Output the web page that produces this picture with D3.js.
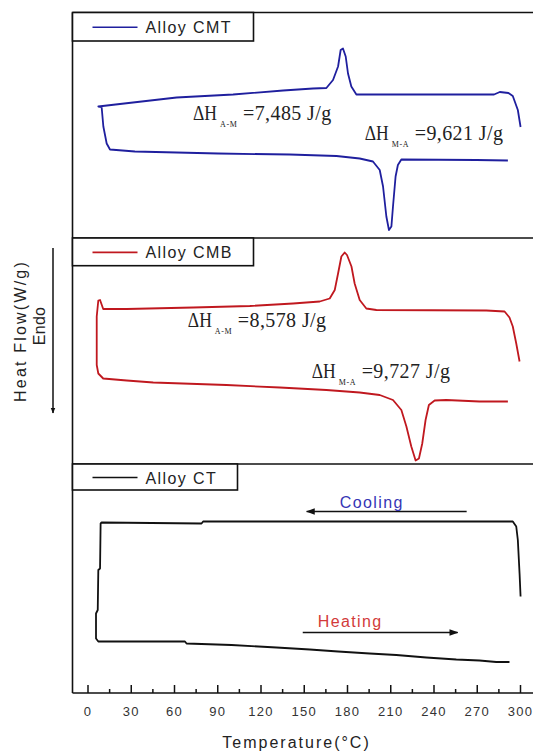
<!DOCTYPE html>
<html>
<head>
<meta charset="utf-8">
<script src="https://cdn.jsdelivr.net/npm/d3@7"></script>
<style>
  html, body { margin: 0; padding: 0; background: #fff; }
  svg { display: block; }
  text { font-family: "Liberation Sans", Arial, sans-serif; }
  text.serif { font-family: "Liberation Serif", "Times New Roman", serif; }
</style>
</head>
<body>
<svg id="chart" width="533" height="753"></svg>
<script>
// Temperature axis
const tempTicks = [0, 30, 60, 90, 120, 150, 180, 210, 240, 270, 300];
const tempMinorTicks = [15, 45, 75, 105, 135, 165, 195, 225, 255, 285];

// DSC loops: [temperature °C, heat flow W/g]; cooling run from 300 °C down, then heating run back up
const cmtCooling = [
  [300.4, 2.22], [298.5, 2.56], [295.0, 2.84], [292.0, 2.90], [286.0, 2.92], [282.0, 2.87],
  [230.0, 2.87], [190.0, 2.87], [186.5, 2.87], [183.0, 3.03], [180.7, 3.29], [179.1, 3.63],
  [177.2, 3.79], [175.6, 3.76], [173.8, 3.43], [170.3, 3.16], [165.7, 3.00], [156.4, 2.99],
  [135.7, 2.95], [101.0, 2.87], [61.8, 2.81], [22.5, 2.68], [7.5, 2.63]
];
const cmtHeating = [
  [9.8, 2.62], [11.0, 2.23], [13.3, 1.89], [15.6, 1.77], [32.9, 1.73], [90.6, 1.69],
  [140.3, 1.67], [172.7, 1.64], [188.8, 1.59], [198.0, 1.53], [202.7, 1.36], [205.0, 1.03],
  [207.3, 0.43], [209.1, 0.16], [210.8, 0.23], [211.9, 0.63], [213.7, 1.23], [215.3, 1.46],
  [217.7, 1.57], [269.7, 1.56], [291.6, 1.55]
];

const cmbCooling = [
  [299.7, 2.05], [297.4, 2.41], [295.0, 2.75], [292.7, 2.93], [289.3, 3.05], [276.6, 3.07],
  [200.4, 3.08], [193.4, 3.11], [188.8, 3.28], [185.3, 3.61], [183.1, 3.95], [180.0, 4.18],
  [178.4, 4.23], [176.1, 4.15], [173.8, 3.81], [171.5, 3.48], [168.0, 3.31], [161.1, 3.25],
  [142.6, 3.21], [112.6, 3.16], [73.3, 3.13], [27.2, 3.10], [10.9, 3.10], [8.7, 3.28],
  [7.5, 3.27], [6.4, 2.95]
];
const cmbHeating = [
  [6.4, 1.98], [7.5, 1.81], [10.9, 1.71], [27.2, 1.67], [45.6, 1.63], [96.4, 1.58],
  [133.4, 1.53], [165.7, 1.48], [188.8, 1.43], [202.7, 1.38], [211.9, 1.28], [217.7, 1.08],
  [221.2, 0.75], [224.6, 0.35], [227.6, 0.07], [229.9, 0.11], [232.2, 0.41], [234.5, 0.88],
  [236.8, 1.18], [240.8, 1.27], [248.9, 1.28], [271.9, 1.25], [291.6, 1.25]
];

const ctCooling = [
  [300.4, 1.93], [299.7, 2.39], [298.5, 3.06], [297.4, 3.33], [295.0, 3.43], [80.2, 3.43],
  [79.1, 3.39], [9.8, 3.41], [9.1, 3.39], [8.7, 2.49], [7.5, 2.46], [7.1, 1.66],
  [5.9, 1.59], [5.9, 1.09]
];
const ctHeating = [
  [7.5, 1.03], [67.6, 1.03], [68.7, 0.99], [99.9, 0.96], [131.1, 0.91], [154.2, 0.87],
  [173.8, 0.83], [195.7, 0.79], [214.2, 0.76], [235.0, 0.71], [255.8, 0.67], [271.9, 0.65],
  [283.5, 0.62], [292.7, 0.62]
];

// Series labels and transformation enthalpies
const alloyNames = ["Alloy CMT", "Alloy CMB", "Alloy CT"];
const enthalpyAM = ["7,485", "8,578"];
const enthalpyMA = ["9,621", "9,727"];

const svg = d3.select("#chart");

const x = d3.scaleLinear().domain([0, 300]).range([87.5, 520]);
const frameLeft = 72.5, frameRight = 545;
const panelTops = [12.5, 238, 464];
const panelBottoms = [238, 464, 693];
const pxPerUnit = 50;

const panels = [
  { name: alloyNames[0], color: "#1f1f9e", data: cmtCooling.concat(cmtHeating), boxW: 181 },
  { name: alloyNames[1], color: "#c0181f", data: cmbCooling.concat(cmbHeating), boxW: 181 },
  { name: alloyNames[2], color: "#111111", data: ctCooling.concat(ctHeating), boxW: 165 }
];

const yScales = panels.map((p, i) =>
  d3.scaleLinear()
    .domain([0, (panelBottoms[i] - panelTops[i]) / pxPerUnit])
    .range([panelBottoms[i], panelTops[i]])
);

// curves
panels.forEach((p, i) => {
  const y = yScales[i];
  const line = d3.line().x(d => x(d[0])).y(d => y(d[1]));
  svg.append("path")
    .datum(p.data)
    .attr("d", line)
    .attr("fill", "none")
    .attr("stroke", p.color)
    .attr("stroke-width", 1.8)
    .attr("stroke-linejoin", "round");
});

// frame and panel dividers
const frame = svg.append("g").attr("stroke", "#111").attr("stroke-width", 1.6).attr("fill", "none");
frame.append("line").attr("x1", frameLeft).attr("x2", frameLeft).attr("y1", panelTops[0]).attr("y2", panelBottoms[2]);
panelTops.forEach(t => {
  frame.append("line").attr("x1", frameLeft).attr("x2", frameRight).attr("y1", t).attr("y2", t);
});

// legend boxes
panels.forEach((p, i) => {
  const top = panelTops[i];
  const h = i === 0 ? 28.5 : (i === 1 ? 27.7 : 26);
  const g = svg.append("g");
  g.append("rect")
    .attr("x", frameLeft).attr("y", top)
    .attr("width", p.boxW).attr("height", h)
    .attr("fill", "#fff").attr("stroke", "#111").attr("stroke-width", 1.6);
  g.append("line")
    .attr("x1", frameLeft + 20).attr("x2", frameLeft + 65)
    .attr("y1", top + h / 2 + 0.5).attr("y2", top + h / 2 + 0.5)
    .attr("stroke", p.color).attr("stroke-width", 1.6);
  g.append("text")
    .attr("x", frameLeft + 73).attr("y", top + h / 2 + 6.5)
    .attr("font-size", 16).attr("letter-spacing", 1.4)
    .attr("fill", "#222")
    .text(p.name);
});

// enthalpy labels: ΔH with subscript
function enthalpy(i, t, v, sub, value) {
  const px = x(t), py = yScales[i](v);
  const g = svg.append("g").attr("fill", "#222");
  g.append("text").attr("class", "serif").attr("x", px).attr("y", py)
    .attr("font-size", 20).attr("textLength", 24).attr("lengthAdjust", "spacingAndGlyphs").text("ΔH");
  g.append("text").attr("class", "serif").attr("x", px + 27).attr("y", py + 7)
    .attr("font-size", 8).attr("letter-spacing", 0.6).text(sub);
  g.append("text").attr("class", "serif").attr("x", px + 50).attr("y", py)
    .attr("font-size", 20).attr("letter-spacing", 0.4).text("=" + value + " J/g");
}
enthalpy(0, 73.2, 2.36, "A-M", enthalpyAM[0]);
enthalpy(0, 192.3, 1.96, "M-A", enthalpyMA[0]);
enthalpy(1, 69.6, 2.75, "A-M", enthalpyAM[1]);
enthalpy(1, 155.5, 1.72, "M-A", enthalpyMA[1]);

// direction arrows in the CT panel
const defs = svg.append("defs");
defs.append("marker")
  .attr("id", "head").attr("viewBox", "0 0 10 10").attr("refX", 9).attr("refY", 5)
  .attr("markerWidth", 6).attr("markerHeight", 6).attr("orient", "auto")
  .append("path").attr("d", "M0,1.5 L10,5 L0,8.5 Z").attr("fill", "#111");

const yCT = yScales[2];
svg.append("line")
  .attr("x1", x(263)).attr("x2", x(152)).attr("y1", yCT(3.63)).attr("y2", yCT(3.63))
  .attr("stroke", "#111").attr("stroke-width", 1.5).attr("marker-end", "url(#head)");
svg.append("text")
  .attr("x", x(175)).attr("y", yCT(3.63) - 4)
  .attr("font-size", 16).attr("letter-spacing", 1.4).attr("fill", "#3535b5")
  .text("Cooling");
svg.append("line")
  .attr("x1", x(149.3)).attr("x2", x(256.7)).attr("y1", yCT(1.21)).attr("y2", yCT(1.21))
  .attr("stroke", "#111").attr("stroke-width", 1.5).attr("marker-end", "url(#head)");
svg.append("text")
  .attr("x", x(159.7)).attr("y", yCT(1.21) - 6)
  .attr("font-size", 16).attr("letter-spacing", 1.4).attr("fill", "#d23a3a")
  .text("Heating");

// bottom temperature axis
const axisY = panelBottoms[2];
svg.append("line")
  .attr("x1", frameLeft).attr("x2", frameRight).attr("y1", axisY).attr("y2", axisY)
  .attr("stroke", "#111").attr("stroke-width", 1.6);

const major = svg.append("g").attr("transform", `translate(0,${axisY})`)
  .call(d3.axisBottom(x).tickValues(tempTicks).tickSize(-8).tickPadding(14).tickFormat(d3.format("d")));
major.select(".domain").remove();
major.selectAll(".tick line").attr("stroke", "#111").attr("stroke-width", 1.5);
major.selectAll(".tick text")
  .attr("font-family", '"Liberation Sans", Arial, sans-serif')
  .attr("font-size", 13).attr("letter-spacing", 1.2).attr("fill", "#333");

const minor = svg.append("g").attr("transform", `translate(0,${axisY})`)
  .call(d3.axisBottom(x).tickValues(tempMinorTicks).tickSize(-4).tickFormat(""));
minor.select(".domain").remove();
minor.selectAll(".tick line").attr("stroke", "#111").attr("stroke-width", 1.5);

svg.append("text")
  .attr("x", x(145)).attr("y", 748)
  .attr("text-anchor", "middle")
  .attr("font-size", 16).attr("letter-spacing", 2)
  .attr("fill", "#222")
  .text("Temperature(°C)");

// heat flow label with endothermic direction arrow
svg.append("text")
  .attr("transform", "translate(26,331) rotate(-90)")
  .attr("text-anchor", "middle")
  .attr("font-size", 16).attr("letter-spacing", 2.2).attr("fill", "#222")
  .text("Heat Flow(W/g)");
svg.append("text")
  .attr("transform", "translate(45,326) rotate(-90)")
  .attr("text-anchor", "middle")
  .attr("font-size", 16).attr("letter-spacing", 0.3).attr("fill", "#222")
  .text("Endo");

defs.append("marker")
  .attr("id", "endoHead").attr("viewBox", "0 0 10 10").attr("refX", 9).attr("refY", 5)
  .attr("markerWidth", 4).attr("markerHeight", 4).attr("orient", "auto")
  .append("path").attr("d", "M0,1 L10,5 L0,9 Z").attr("fill", "#111");
svg.append("line")
  .attr("x1", 53).attr("x2", 53).attr("y1", 248).attr("y2", 413)
  .attr("stroke", "#111").attr("stroke-width", 1.5).attr("marker-end", "url(#endoHead)");
</script>
</body>
</html>
